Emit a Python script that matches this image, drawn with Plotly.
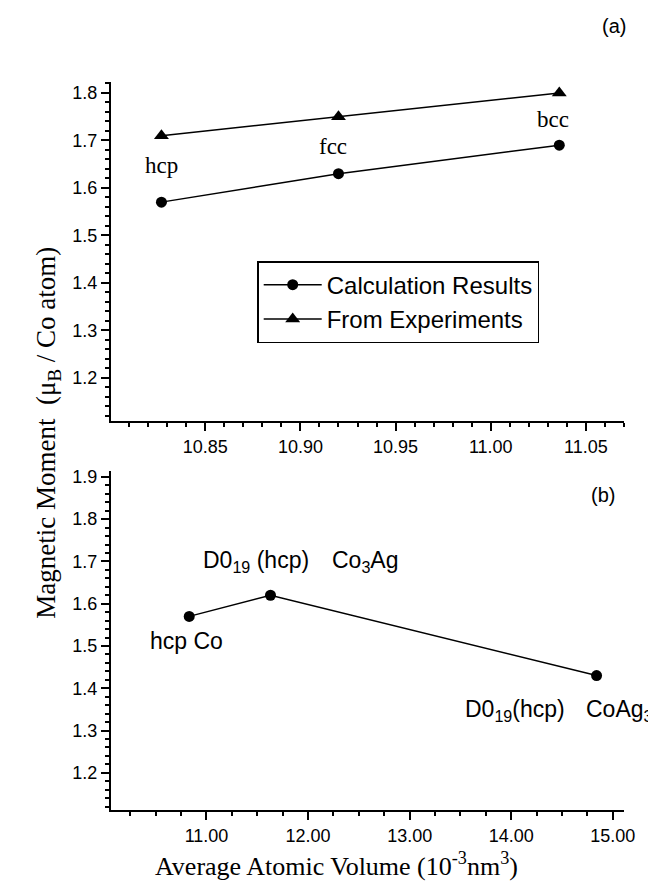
import plotly.graph_objects as go

# ---- data (panel a) ----
vol_a = [10.827, 10.920, 11.036]
calc_a = [1.57, 1.63, 1.69]
exp_a = [1.71, 1.75, 1.80]
struct_a = ["hcp", "fcc", "bcc"]
series_names = ["Calculation Results", "From Experiments"]

# ---- data (panel b) ----
vol_b = [10.83, 11.63, 14.84]
mom_b = [1.57, 1.62, 1.43]

W, H = 656, 881
SANS = "Liberation Sans, Arial, sans-serif"
SERIF = "Liberation Serif, Times New Roman, serif"

fig = go.Figure()
line_style = dict(color="black", width=1.5)
fig.add_trace(go.Scatter(x=vol_a, y=calc_a, mode="lines+markers", name=series_names[0],
                         line=line_style, marker=dict(symbol="circle", size=11, color="black"),
                         xaxis="x", yaxis="y"))
fig.add_trace(go.Scatter(x=vol_a, y=exp_a, mode="lines+markers", name=series_names[1],
                         line=line_style, marker=dict(symbol="triangle-up", size=13, color="black"),
                         xaxis="x", yaxis="y"))
fig.add_trace(go.Scatter(x=vol_b, y=mom_b, mode="lines+markers", showlegend=False,
                         line=line_style, marker=dict(symbol="circle", size=11, color="black"),
                         xaxis="x2", yaxis="y2"))

def axis(rng, dtick, tick0, minor_dtick, fmt, domain, anchor):
    return dict(range=rng, dtick=dtick, tick0=tick0, tickformat=fmt, domain=domain, anchor=anchor,
                showline=True, linecolor="black", linewidth=2, mirror=False,
                ticks="outside", ticklen=8, tickwidth=2, tickcolor="black",
                showgrid=False, zeroline=False,
                tickfont=dict(family=SANS, size=18, color="black"),
                minor=dict(dtick=minor_dtick, ticks="outside", ticklen=4, tickwidth=2,
                           tickcolor="black", showgrid=False))

# plot area: x 103..616, y 74..802 px
ya_dom = [0.5343, 1.0]
yb_dom = [0.0, 0.4657]

fig.update_layout(
    width=W, height=H,
    margin=dict(l=103, r=40, t=74, b=79),
    paper_bgcolor="white", plot_bgcolor="white",
    xaxis=axis([10.8005, 11.07], 0.05, 10.80, 0.01, ".2f", [0, 1], "y"),
    yaxis=axis([1.109, 1.823], 0.1, 1.2, 0.02, ".1f", ya_dom, "x"),
    xaxis2=axis([10.06, 15.11], 1.0, 11.0, 0.25, ".2f", [0, 1], "y2"),
    yaxis2=axis([1.112, 1.914], 0.1, 1.2, 0.02, ".1f", yb_dom, "x2"),
    showlegend=True,
    legend=dict(x=0.285, y=0.754, xanchor="left", yanchor="top", xref="paper", yref="paper",
                bordercolor="black", borderwidth=1.5, bgcolor="white",
                font=dict(family=SANS, size=24, color="black"),
                itemwidth=58, tracegroupgap=0),
)

ann = []
# structure labels in panel a (placed under the experimental triangles)
a_shift = [(0, -30), (-5, -30), (-6, -27)]
for i, s in enumerate(struct_a):
    ann.append(dict(x=vol_a[i], y=exp_a[i], xref="x", yref="y", text=s, showarrow=False,
                    xanchor="center", yanchor="middle",
                    xshift=a_shift[i][0], yshift=a_shift[i][1],
                    font=dict(family=SERIF, size=23, color="black")))

# labels in panel b
b_labels = [
    (0, "hcp Co", -3, -25),
    (1, "D0<sub>19</sub> (hcp)", -14, 34),
    (1, "Co<sub>3</sub>Ag", 95, 34),
    (2, "D0<sub>19</sub>(hcp)", -82, -35),
    (2, "CoAg<sub>3</sub>", 23, -35),
]
for i, t, dx, dy in b_labels:
    ann.append(dict(x=vol_b[i], y=mom_b[i], xref="x2", yref="y2", text=t, showarrow=False,
                    xanchor="center", yanchor="middle",
                    xshift=dx, yshift=dy, font=dict(family=SANS, size=23, color="black")))

ann.append(dict(x=0.98, y=1.077, xref="paper", yref="paper", text="(a)", showarrow=False,
                xanchor="center", yanchor="middle",
                font=dict(family=SANS, size=20, color="black")))
ann.append(dict(x=14.9, y=1.856, xref="x2", yref="y2", text="(b)", showarrow=False,
                xanchor="center", yanchor="middle",
                font=dict(family=SANS, size=20, color="black")))

ann.append(dict(x=-0.123, y=0.518, xref="paper", yref="paper", textangle=-90, showarrow=False,
                xanchor="center", yanchor="middle",
                text="Magnetic Moment  (\u03bc<sub>B</sub> / Co atom)",
                font=dict(family=SERIF, size=27, color="black")))
ann.append(dict(x=0.44, y=-0.0745, xref="paper", yref="paper", showarrow=False,
                xanchor="center", yanchor="middle",
                text="Average Atomic Volume (10<sup>-3</sup>nm<sup>3</sup>)",
                font=dict(family=SERIF, size=26, color="black")))
fig.update_layout(annotations=ann)

fig.write_html("out.html")
